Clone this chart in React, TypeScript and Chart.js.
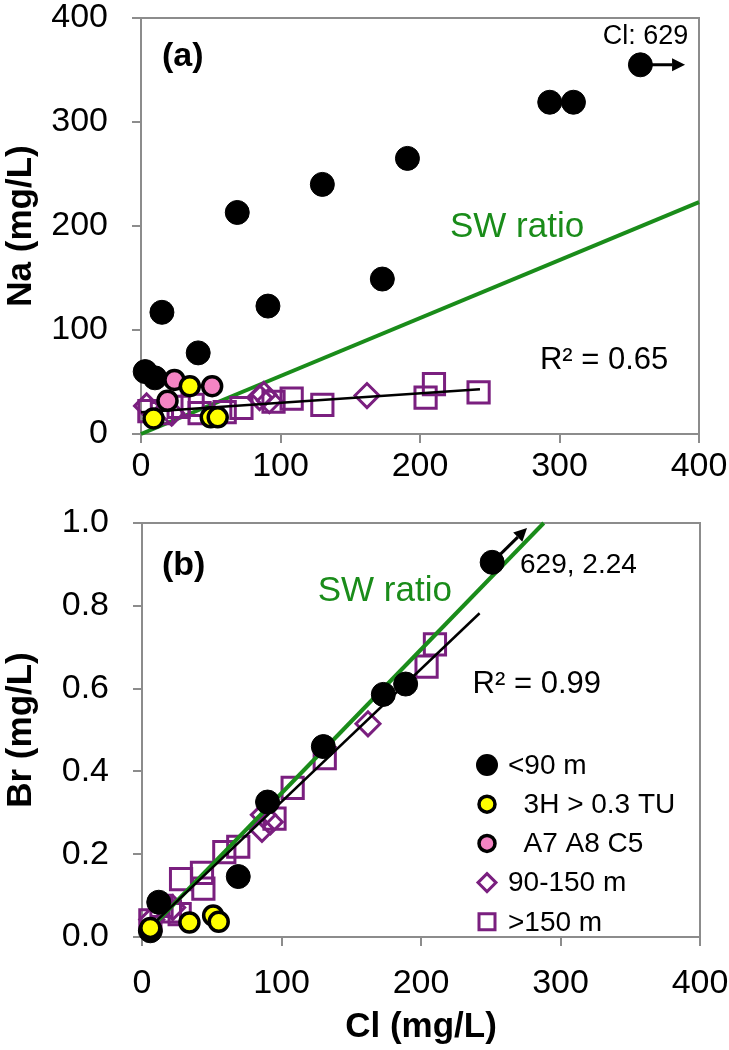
import { useEffect, useRef } from "react";
import { Chart, registerables } from "chart.js";

Chart.register(...registerables);

const FONT = "'Liberation Sans', Arial, sans-serif";
const PURPLE = "#7a1f7f";
const GREEN = "#1a8c1a";
const PINK = "#f484c4";
const YELLOW = "#ffff00";
const AXIS = "#8c8c8c";

// ---------- Panel (a): Cl vs Na (mg/L) ----------
const aBlackCl = [3, 10, 15, 41, 69, 91, 130, 173, 191, 293, 310, 358];
const aBlackNa = [60, 54, 117, 78, 213, 123, 240, 149, 265, 319, 319, 355];
const aPinkCl = [24, 51, 19];
const aPinkNa = [52, 46, 32];
const aYellowCl = [35, 9, 50, 55];
const aYellowNa = [46, 15, 16, 16];
const aDiamondCl = [4, 22, 85, 88, 92, 162];
const aDiamondNa = [27, 20, 35, 38, 32, 37];
const aSquareCl = [6, 15, 27, 37, 42, 60, 72, 95, 108, 130, 204, 210, 242];
const aSquareNa = [22, 20, 26, 28, 20, 21, 25, 31, 34, 28, 35, 48, 40];
const aSwCl = [0, 400];
const aSwNa = [0, 223];
const aFitCl = [0, 243];
const aFitNa = [21, 43];
const aArrowCl = [358, 390];
const aArrowNa = [355, 355];

// ---------- Panel (b): Cl vs Br (mg/L) ----------
const bBlackCl = [6, 12, 69, 90, 130, 173, 189, 251];
const bBlackBr = [0.015, 0.084, 0.146, 0.326, 0.46, 0.586, 0.611, 0.905];
const bYellowCl = [6, 34, 51, 55];
const bYellowBr = [0.022, 0.035, 0.052, 0.037];
const bDiamondCl = [7, 22, 86, 87, 92, 162];
const bDiamondBr = [0.042, 0.071, 0.26, 0.295, 0.278, 0.515];
const bSquareCl = [6, 14, 20, 27, 28, 43, 44, 59, 69, 95, 108, 131, 204, 210];
const bSquareBr = [0.04, 0.075, 0.062, 0.055, 0.14, 0.155, 0.117, 0.205, 0.218, 0.286, 0.36, 0.432, 0.653, 0.707];
const bSwCl = [0, 288];
const bSwBr = [0, 1.0];
const bFitCl = [6, 242];
const bFitBr = [0.025, 0.782];
const bArrowCl = [251, 276];
const bArrowBr = [0.905, 0.988];

const xTicksCl = [0, 100, 200, 300, 400];
const legendLabels = ["<90 m", "  3H > 0.3 TU", "  A7 A8 C5", "90-150 m", ">150 m"];

const pts = (xs: number[], ys: number[]) => xs.map((x, i) => ({ x, y: ys[i] }));

type Txt = { text: string; x: number; y: number; size: number; bold?: boolean; color?: string };

function drawMarker(ctx: CanvasRenderingContext2D, kind: string, x: number, y: number) {
  ctx.save();
  ctx.beginPath();
  if (kind === "black") {
    ctx.arc(x, y, 11, 0, Math.PI * 2);
    ctx.fillStyle = "#000";
    ctx.fill();
  } else if (kind === "yellow" || kind === "pink") {
    ctx.arc(x, y, 8, 0, Math.PI * 2);
    ctx.fillStyle = kind === "yellow" ? YELLOW : PINK;
    ctx.fill();
    ctx.lineWidth = 3.5;
    ctx.strokeStyle = "#000";
    ctx.stroke();
  } else if (kind === "diamond") {
    const r = 9;
    ctx.moveTo(x, y - r);
    ctx.lineTo(x + r, y);
    ctx.lineTo(x, y + r);
    ctx.lineTo(x - r, y);
    ctx.closePath();
    ctx.lineWidth = 3;
    ctx.strokeStyle = PURPLE;
    ctx.stroke();
  } else {
    const h = 8;
    ctx.rect(x - h, y - h, 2 * h, 2 * h);
    ctx.lineWidth = 3;
    ctx.strokeStyle = PURPLE;
    ctx.stroke();
  }
  ctx.restore();
}

function makePlugin(texts: Txt[], arrow: { xs: number[]; ys: number[] }, legend: boolean) {
  return {
    id: "annot",
    beforeDatasetsDraw(chart: any) {
      const { ctx, chartArea: ca } = chart;
      ctx.save();
      ctx.strokeStyle = AXIS;
      ctx.lineWidth = 2;
      ctx.strokeRect(ca.left, ca.top, ca.right - ca.left, ca.bottom - ca.top);
      ctx.restore();
    },
    afterDatasetsDraw(chart: any) {
      const { ctx, scales, chartArea: ca } = chart;
      const sx = scales.x;
      const sy = scales.y;
      ctx.save();
      ctx.textBaseline = "middle";
      ctx.textAlign = "left";
      for (const t of texts) {
        ctx.font = `${t.bold ? "bold " : ""}${t.size}px ${FONT}`;
        ctx.fillStyle = t.color || "#000";
        ctx.fillText(t.text, sx.getPixelForValue(t.x), sy.getPixelForValue(t.y));
      }
      // arrow
      const x0 = sx.getPixelForValue(arrow.xs[0]);
      const y0 = sy.getPixelForValue(arrow.ys[0]);
      const x1 = sx.getPixelForValue(arrow.xs[1]);
      const y1 = sy.getPixelForValue(arrow.ys[1]);
      const ang = Math.atan2(y1 - y0, x1 - x0);
      const hl = 13;
      const hw = 6.5;
      const bx = x1 - hl * Math.cos(ang);
      const by = y1 - hl * Math.sin(ang);
      ctx.strokeStyle = "#000";
      ctx.lineWidth = 3;
      ctx.beginPath();
      ctx.moveTo(x0, y0);
      ctx.lineTo(bx, by);
      ctx.stroke();
      ctx.beginPath();
      ctx.moveTo(x1, y1);
      ctx.lineTo(bx + hw * Math.sin(ang), by - hw * Math.cos(ang));
      ctx.lineTo(bx - hw * Math.sin(ang), by + hw * Math.cos(ang));
      ctx.closePath();
      ctx.fillStyle = "#000";
      ctx.fill();
      if (legend) {
        const kinds = ["black", "yellow", "pink", "diamond", "square"];
        const mx = ca.left + 345;
        const tx = ca.left + 366;
        const top = ca.top + 242;
        const step = 39.2;
        ctx.font = `28px ${FONT}`;
        ctx.fillStyle = "#000";
        legendLabels.forEach((lab, i) => {
          const yy = top + i * step;
          drawMarker(ctx, kinds[i], mx, yy);
          ctx.fillStyle = "#000";
          ctx.fillText(lab, tx, yy + 1);
        });
      }
      ctx.restore();
    },
  };
}

function scatterSet(data: any[], kind: string, order: number) {
  const base: any = { data, clip: false, order, showLine: false };
  if (kind === "black")
    return { ...base, pointRadius: 12, pointBackgroundColor: "#000", pointBorderColor: "#000", pointBorderWidth: 1 };
  if (kind === "yellow" || kind === "pink")
    return {
      ...base,
      pointRadius: 9.5,
      pointBackgroundColor: kind === "yellow" ? YELLOW : PINK,
      pointBorderColor: "#000",
      pointBorderWidth: 3.5,
    };
  if (kind === "diamond")
    return { ...base, pointStyle: "rectRot", pointRadius: 12, pointBackgroundColor: "rgba(0,0,0,0)", pointBorderColor: PURPLE, pointBorderWidth: 3 };
  return { ...base, pointStyle: "rect", pointRadius: 15, pointBackgroundColor: "rgba(0,0,0,0)", pointBorderColor: PURPLE, pointBorderWidth: 3 };
}

function lineSet(data: any[], color: string, width: number, order: number) {
  return { data, showLine: true, borderColor: color, borderWidth: width, pointRadius: 0, order, clip: false, fill: false };
}

function axisCfg(
  min: number,
  max: number,
  step: number,
  axisSize: number,
  isX: boolean,
  title: string,
  tickPad: number,
  fmt?: (v: number) => string
) {
  return {
    type: "linear",
    min,
    max,
    afterBuildTicks: isX ? (s: any) => { s.ticks = xTicksCl.map((v) => ({ value: v })); } : undefined,
    ticks: {
      stepSize: step,
      color: "#000",
      font: { family: FONT, size: 34 },
      padding: tickPad,
      maxRotation: 0,
      autoSkip: false,
      callback: fmt ? (v: any) => fmt(Number(v)) : (v: any) => String(v),
    },
    grid: { drawOnChartArea: false, drawTicks: true, tickLength: 9, color: AXIS, lineWidth: 2 },
    border: { color: AXIS, width: 2 },
    title: {
      display: !!title,
      text: title,
      color: "#000",
      font: { family: FONT, size: 35, weight: "bold" },
      padding: isX ? { top: 0, bottom: 2 } : { top: 0, bottom: 0 },
    },
    afterFit: (s: any) => {
      if (isX) s.height = axisSize;
      else s.width = axisSize;
      s.paddingLeft = 0;
      s.paddingRight = 0;
      s.paddingTop = 0;
      s.paddingBottom = 0;
    },
  };
}

export default function App() {
  const refA = useRef<HTMLCanvasElement>(null);
  const refB = useRef<HTMLCanvasElement>(null);

  useEffect(() => {
    const textsA: Txt[] = [
      { text: "(a)", x: 15, y: 363, size: 34, bold: true },
      { text: "Cl: 629", x: 331, y: 382, size: 27 },
      { text: "SW ratio", x: 221.5, y: 198.6, size: 35, color: GREEN },
      { text: "R² = 0.65", x: 286, y: 70.6, size: 31 },
    ];
    const chartA = new Chart(refA.current as HTMLCanvasElement, {
      type: "scatter",
      data: {
        datasets: [
          scatterSet(pts(aYellowCl, aYellowNa), "yellow", 0),
          scatterSet(pts(aPinkCl, aPinkNa), "pink", 1),
          scatterSet(pts(aBlackCl, aBlackNa), "black", 2),
          lineSet(pts(aFitCl, aFitNa), "#000", 2.5, 3),
          scatterSet(pts(aDiamondCl, aDiamondNa), "diamond", 4),
          scatterSet(pts(aSquareCl, aSquareNa), "square", 5),
          lineSet(pts(aSwCl, aSwNa), GREEN, 4, 6),
        ] as any,
      },
      options: {
        responsive: false,
        animation: false,
        events: [],
        layout: { padding: { top: 15, right: 30, left: 0, bottom: 0 } },
        plugins: { legend: { display: false }, tooltip: { enabled: false } },
        scales: {
          x: axisCfg(0, 400, 100, 71, true, "", 3) as any,
          y: axisCfg(0, 400, 100, 141, false, "Na (mg/L)", 24) as any,
        },
      },
      plugins: [makePlugin(textsA, { xs: aArrowCl, ys: aArrowNa }, false)],
    });

    const textsB: Txt[] = [
      { text: "(b)", x: 14.3, y: 0.897, size: 34, bold: true },
      { text: "SW ratio", x: 126, y: 0.835, size: 35, color: GREEN },
      { text: "629, 2.24", x: 271, y: 0.897, size: 28 },
      { text: "R² = 0.99", x: 237, y: 0.609, size: 31 },
    ];
    const chartB = new Chart(refB.current as HTMLCanvasElement, {
      type: "scatter",
      data: {
        datasets: [
          scatterSet(pts(bYellowCl, bYellowBr), "yellow", 0),
          lineSet(pts(bFitCl, bFitBr), "#000", 2.5, 1),
          scatterSet(pts(bBlackCl, bBlackBr), "black", 2),
          scatterSet(pts(bDiamondCl, bDiamondBr), "diamond", 4),
          scatterSet(pts(bSquareCl, bSquareBr), "square", 5),
          lineSet(pts(bSwCl, bSwBr), GREEN, 4, 3),
        ] as any,
      },
      options: {
        responsive: false,
        animation: false,
        events: [],
        layout: { padding: { top: 13, right: 29, left: 0, bottom: 0 } },
        plugins: { legend: { display: false }, tooltip: { enabled: false } },
        scales: {
          x: axisCfg(0, 400, 100, 113, true, "Cl (mg/L)", 17) as any,
          y: axisCfg(0, 1, 0.2, 142, false, "Br (mg/L)", 24, (v) => v.toFixed(1)) as any,
        },
      },
      plugins: [makePlugin(textsB, { xs: bArrowCl, ys: bArrowBr }, true)],
    });

    return () => {
      chartA.destroy();
      chartB.destroy();
    };
  }, []);

  return (
    <div style={{ position: "absolute", left: 0, top: 0, width: 729, height: 1050, background: "#fff" }}>
      <canvas ref={refA} width={729} height={505} style={{ position: "absolute", left: 0, top: 0 }} />
      <canvas ref={refB} width={729} height={545} style={{ position: "absolute", left: 0, top: 505 }} />
    </div>
  );
}
